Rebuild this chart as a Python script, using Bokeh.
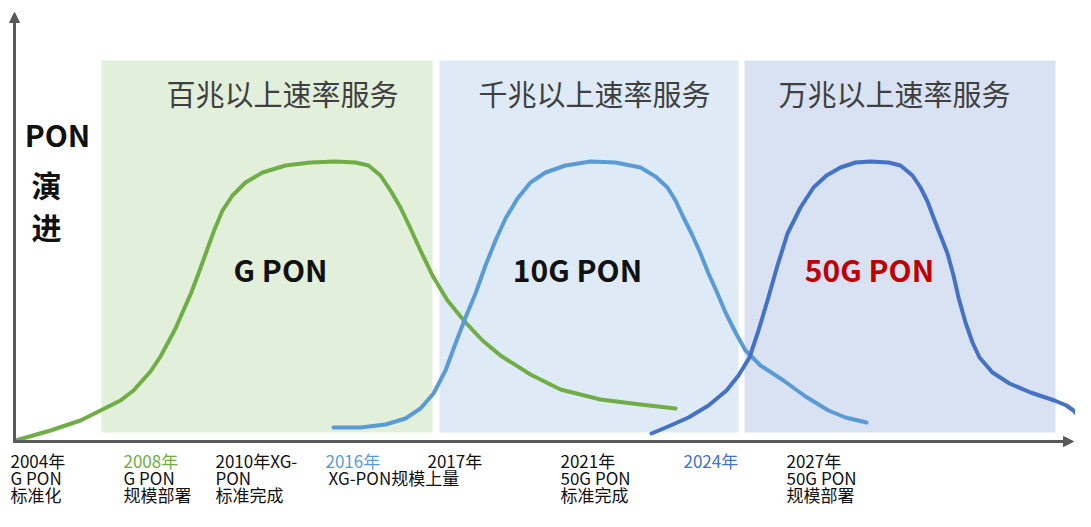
from bokeh.plotting import figure
from bokeh.models import Range1d, Arrow, NormalHead
from bokeh.core.properties import value
from bokeh.embed import file_html
from bokeh.resources import INLINE

# ---------------- data (diagram units: x to the right, y = screen-style, down) -------------
gpon_x = [15, 50, 80, 100, 120, 133, 150, 160, 167, 175, 182, 190, 198, 206, 214, 222, 232, 245, 262, 285, 310,
          335, 355, 368, 380, 390, 400, 410, 420, 432, 447, 465, 482, 500, 530, 560, 600, 640, 675]
gpon_y = [440, 430, 420, 410, 400, 390, 371, 356, 343, 328, 312, 294, 273, 251, 229, 210, 195, 182, 172, 165, 162,
          161, 162, 165, 175, 190, 207, 228, 250, 275, 300, 322, 340, 355, 374, 389, 399, 404, 408]

xgpon_x = [333, 360, 385, 405, 420, 433, 445, 455, 465, 475, 485, 495, 505, 517, 530, 545, 565, 590,
           615, 640, 655, 667, 675, 683, 692, 700, 708, 717, 725, 735, 745, 760, 783, 805, 828, 845, 866]
xgpon_y = [427, 427, 424, 418, 408, 393, 370, 343, 317, 293, 265, 240, 218, 198, 182, 172, 165, 161,
           162, 167, 176, 187, 200, 217, 235, 253, 273, 293, 312, 332, 350, 365, 380, 396, 410, 417, 422]

g50_x = [651, 670, 688, 708, 726, 738, 749, 758, 767, 777, 787, 800, 813, 826, 840, 855, 870, 888,
         900, 912, 920, 927, 933, 940, 947, 953, 958, 965, 972, 979, 992, 1009, 1030, 1054, 1066, 1073, 1079, 1084]
g50_y = [433, 425, 417, 405, 390, 375, 357, 330, 300, 265, 233, 207, 187, 175, 167, 162, 161, 162,
         165, 175, 187, 201, 217, 235, 253, 275, 297, 322, 342, 357, 372, 383, 392, 400, 405, 410, 417, 425]

zone_titles = ["百兆以上速率服务", "千兆以上速率服务", "万兆以上速率服务"]
zone_title_x = [282, 594, 894]
zone_left = [101, 439, 744]
zone_right = [432, 738, 1055]
zone_colors = ["#E2EFDA", "#DEEAF6", "#D9E2F3"]

tech_names = ["G PON", "10G PON", "50G PON"]
tech_colors = ["#111111", "#111111", "#C00000"]
tech_center = [280, 577, 869]

year_labels = ["2004年", "2008年", "2010年XG-", "2016年", "2017年", "2021年", "2024年", "2027年"]
year_x = [10, 123, 215, 325, 427, 560, 683, 786]
year_colors = ["#111111", "#70AD47", "#111111", "#5B9BD5", "#111111", "#111111", "#4472C4", "#111111"]

line2_labels = ["G PON", "G PON", "PON", "XG-PON规模上量", "50G PON", "50G PON"]
line2_x = [10, 123, 215, 328, 560, 786]
line3_labels = ["标准化", "规模部署", "标准完成", "标准完成", "规模部署"]
line3_x = [10, 123, 215, 560, 786]

# ---------------- layout ----------------
W, H = 1075, 511
p = figure(width=W, height=H, output_backend="svg", toolbar_location=None,
           x_range=Range1d(0, W), y_range=Range1d(H, 0),
           min_border=0, background_fill_color="white", border_fill_color="white")
p.axis.visible = False
p.grid.visible = False
p.outline_line_color = None

ZONE_TOP, ZONE_BOTTOM = 60, 432
AXIS_X, AXIS_Y = 14, 441
FONT = value("Noto Sans CJK SC")
AXIS_COLOR = "#595959"

p.quad(left=zone_left, right=zone_right, top=[ZONE_TOP] * 3, bottom=[ZONE_BOTTOM] * 3,
       fill_color=zone_colors, line_color=None)

p.text(x=zone_title_x, y=[92] * 3, text=zone_titles, text_align="center", text_baseline="middle",
       text_font=FONT, text_font_size="29px", text_color="#3F3F3F")

# curves
p.line(gpon_x, gpon_y, line_color="#70AD47", line_width=4, line_cap="round", line_join="round")
p.line(xgpon_x, xgpon_y, line_color="#5B9BD5", line_width=4, line_cap="round", line_join="round")
p.line(g50_x, g50_y, line_color="#4472C4", line_width=4, line_cap="round", line_join="round")

# tech labels
p.text(x=tech_center, y=[268] * 3, text=tech_names, text_align="center", text_baseline="middle",
       text_font=FONT, text_font_size="30px", text_font_style="bold", text_color=tech_colors)

# left label
p.text(x=[57, 46, 46], y=[133, 183, 225], text=["PON", "演", "进"], text_align="center",
       text_baseline="middle", text_font=FONT, text_font_size="30px", text_font_style="bold",
       text_color="#111111")

# axes with arrows
p.add_layout(Arrow(end=NormalHead(size=10, fill_color=AXIS_COLOR, line_color=AXIS_COLOR),
                   x_start=AXIS_X, y_start=AXIS_Y + 1, x_end=AXIS_X, y_end=12,
                   line_color=AXIS_COLOR, line_width=3))
p.add_layout(Arrow(end=NormalHead(size=10, fill_color=AXIS_COLOR, line_color=AXIS_COLOR),
                   x_start=AXIS_X - 1, y_start=AXIS_Y, x_end=W - 2, y_end=AXIS_Y,
                   line_color=AXIS_COLOR, line_width=3))

# bottom labels (compressed slightly so that the last line stays inside the page)
LABEL_SIZE = "17px"
p.text(x=year_x, y=[460] * len(year_x), text=year_labels, text_align="left", text_baseline="middle",
       text_font=FONT, text_font_size=LABEL_SIZE, text_color=year_colors)
p.text(x=line2_x, y=[477] * len(line2_x), text=line2_labels, text_align="left", text_baseline="middle",
       text_font=FONT, text_font_size=LABEL_SIZE, text_color="#111111")
p.text(x=line3_x, y=[494] * len(line3_x), text=line3_labels, text_align="left", text_baseline="middle",
       text_font=FONT, text_font_size=LABEL_SIZE, text_color="#111111")

open("out.html", "w").write(file_html(p, INLINE))
